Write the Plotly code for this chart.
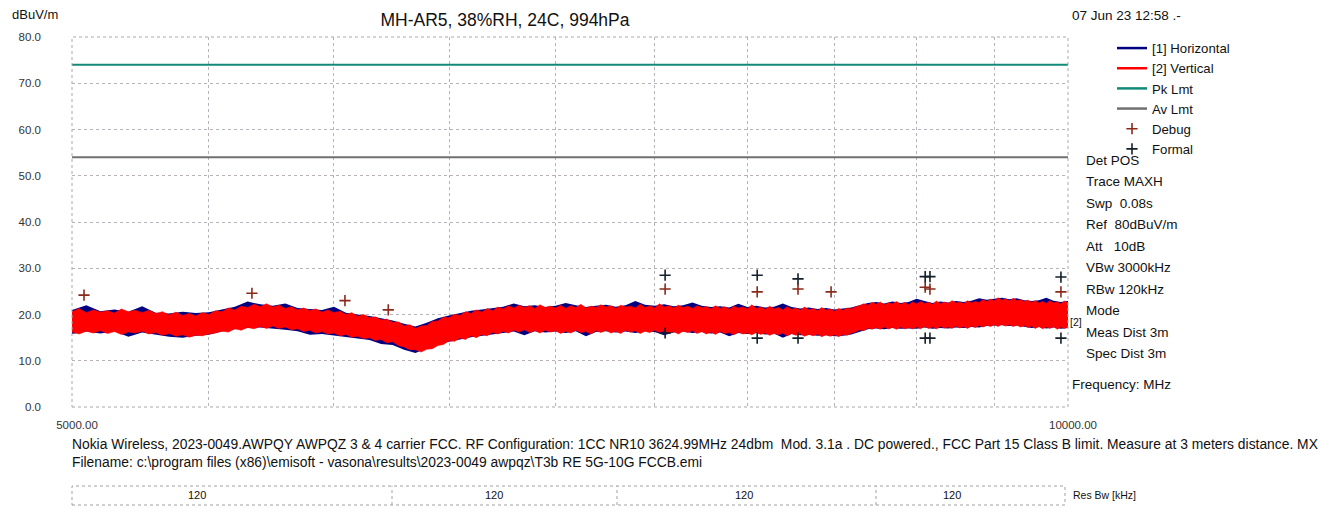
import plotly.graph_objects as go

# ---------------- data ----------------
# red (vertical) trace envelope, 25 MHz step
freq_fine = [5000 + 25 * j for j in range(201)]
red_upper = [20.6, 21.3, 20.4, 21.0, 20.5, 20.8, 20.3, 21.2, 20.6, 20.9, 20.4,
             20.9, 20.2, 20.6, 19.9, 20.5, 19.8, 20.2, 19.7, 20.4, 20.0,
             20.8, 20.6, 21.4, 21.0, 21.8, 21.5, 22.2, 21.7, 22.3, 21.6,
             22.0, 21.3, 21.7, 21.0, 21.4, 20.8, 21.2, 20.5, 21.0, 20.4,
             20.7, 20.0, 20.4, 19.6, 20.0, 19.3, 19.5, 18.8, 19.0, 18.3,
             18.4, 17.5, 17.8, 17.0, 17.5, 17.6, 18.5, 18.6, 19.4, 19.3,
             20.0, 19.8, 20.6, 20.2, 21.0, 20.5, 21.3, 20.8, 21.6, 21.2,
             21.9, 21.4, 22.0, 21.5, 21.9, 21.3, 22.1, 21.5, 21.8, 21.4,
             22.0, 21.3, 21.9, 21.5, 22.2, 21.4, 21.8, 21.5, 22.1, 21.6,
             21.9, 21.3, 22.0, 21.6, 21.8, 21.4, 22.2, 21.5, 21.9, 21.4,
             22.3, 21.6, 21.9, 21.4, 22.0, 21.5, 21.8, 21.3, 21.9, 21.5,
             21.7, 21.2, 21.9, 21.3, 21.7, 21.1, 21.8, 21.4, 21.6, 21.2,
             22.1, 21.3, 21.6, 21.1, 21.8, 21.2, 21.5, 21.0, 21.7, 21.1,
             21.4, 20.9, 21.6, 21.0, 21.3, 20.8, 21.5, 20.9, 21.2, 20.7,
             21.3, 20.9, 21.4, 21.2, 21.7, 21.9, 22.3, 22.0, 22.6, 22.2,
             22.7, 22.1, 22.5, 22.3, 22.8, 22.2, 22.6, 22.1, 22.7, 22.3,
             22.8, 22.4, 22.6, 22.2, 22.9, 22.3, 22.7, 22.4, 23.0, 22.5,
             22.7, 22.3, 23.0, 22.5, 22.8, 22.6, 23.2, 22.8, 23.3, 23.0,
             23.6, 23.1, 23.4, 22.9, 23.5, 23.0, 23.2, 22.8, 23.1, 22.6,
             23.0, 22.5, 22.8, 22.4, 23.0, 22.5, 22.7, 22.3, 22.9, 22.4]
red_lower = [16.2, 15.8, 16.4, 16.0, 16.5, 15.9, 16.3, 15.7, 16.2, 16.0, 16.4,
             15.8, 16.1, 15.5, 15.9, 15.3, 15.6, 15.1, 15.5, 15.4, 15.8,
             16.0, 16.4, 16.2, 16.9, 16.6, 17.2, 16.9, 17.4, 17.0, 17.5,
             17.0, 17.3, 16.7, 16.9, 16.3, 16.6, 16.0, 16.3, 15.8, 16.0,
             15.4, 15.7, 15.1, 15.3, 14.8, 15.0, 14.4, 14.6, 13.9, 14.1,
             13.3, 13.0, 12.4, 12.4, 11.9, 12.5, 12.6, 13.3, 13.5, 14.3,
             14.2, 14.9, 14.6, 15.4, 15.0, 15.7, 15.4, 16.1, 15.8, 16.4,
             16.0, 16.6, 16.2, 16.7, 16.1, 16.5, 16.0, 16.6, 16.2, 16.5,
             15.9, 16.4, 16.0, 16.6, 16.1, 16.3, 15.8, 16.5, 16.1, 16.6,
             16.0, 16.4, 15.9, 16.6, 16.2, 16.5, 15.9, 16.4, 16.1, 16.6,
             16.1, 16.5, 16.0, 16.3, 15.8, 16.4, 16.1, 16.5, 15.9, 16.3,
             15.8, 16.2, 15.7, 16.3, 15.9, 16.1, 15.6, 16.2, 15.8, 16.0,
             15.6, 16.1, 15.7, 16.0, 15.5, 15.9, 15.6, 16.0, 15.4, 15.9,
             15.5, 15.8, 15.3, 15.7, 15.4, 15.8, 15.2, 15.6, 15.3, 15.6,
             15.2, 15.7, 15.5, 16.0, 16.2, 16.7, 16.5, 17.1, 16.8, 17.2,
             16.8, 17.3, 16.9, 17.2, 16.8, 17.3, 16.9, 17.2, 16.9, 17.3,
             16.9, 17.4, 17.0, 17.3, 16.9, 17.4, 17.1, 17.3, 17.0, 17.5,
             17.1, 17.4, 17.0, 17.5, 17.2, 17.6, 17.3, 17.7, 17.4, 17.8,
             17.4, 17.9, 17.5, 17.8, 17.4, 17.7, 17.3, 17.6, 17.2, 17.5,
             17.0, 17.4, 16.9, 17.3, 17.0, 17.4, 16.8, 17.3, 17.0, 17.3]

# blue (horizontal) trace envelope, 50 MHz step
freq_coarse = [5000 + 50 * i for i in range(101)]
blue_upper = [21.0, 22.0, 20.7, 21.1, 20.6, 21.8, 20.4, 20.2, 20.6, 20.3,
              20.5, 21.1, 21.7, 22.8, 22.2, 21.9, 22.4, 21.4, 21.2, 21.0,
              21.7, 20.4, 20.0, 19.7, 19.2, 18.7, 18.0, 17.4, 18.2, 19.2,
              19.8, 20.3, 20.8, 21.1, 21.4, 21.7, 22.4, 21.8, 22.0, 21.6,
              21.9, 22.5, 22.0, 21.6, 21.9, 22.1, 21.7, 22.0, 22.9, 22.1,
              21.9, 22.2, 21.8, 22.0, 22.6, 21.9, 21.6, 21.8, 21.5, 22.3,
              21.6, 21.9, 21.5, 21.7, 22.4, 21.6, 21.3, 21.5, 21.2, 21.4,
              21.1, 21.3, 21.5, 22.0, 22.5, 22.7, 22.4, 22.8, 22.5, 22.7,
              23.4, 22.9, 22.5, 22.8, 22.6, 22.9, 22.7, 23.0, 23.5, 23.2,
              23.4, 23.6, 23.3, 23.5, 23.1, 22.9, 23.1, 23.6, 23.0, 22.7,
              22.9]
blue_lower = [15.8, 16.3, 15.9, 16.4, 15.2, 16.1, 15.6, 15.2, 15.0, 15.4,
              15.6, 16.3, 16.8, 17.1, 17.2, 17.0, 16.7, 16.4, 15.6, 15.8,
              15.5, 15.1, 14.8, 14.5, 13.6, 13.4, 12.4, 11.7, 12.7, 13.6,
              14.1, 14.6, 15.1, 15.4, 15.7, 16.0, 16.3, 15.5, 16.4, 16.1,
              16.3, 16.0, 16.4, 15.3, 16.2, 16.4, 16.1, 16.3, 16.0, 16.4,
              16.2, 15.5, 16.1, 16.3, 16.0, 16.2, 15.9, 16.1, 15.3, 16.0,
              15.8, 16.0, 15.7, 15.9, 15.0, 15.8, 15.5, 15.6, 15.4, 15.5,
              15.3, 15.4, 15.7, 16.3, 16.8, 17.0, 16.8, 17.1, 16.9, 17.0,
              16.9, 17.2, 16.9, 17.1, 17.0, 17.2, 17.1, 17.3, 17.2, 17.5,
              17.6, 17.7, 17.5, 17.6, 17.3, 17.1, 17.3, 17.0, 17.2, 16.9,
              17.1]

pk_limit = 74.0
av_limit = 54.0

debug_freq = [5042, 5667, 6046, 6231, 7555, 8055, 8287, 8480, 9054, 9084, 9951]
debug_level = [24.2, 24.6, 23.0, 21.0, 25.5, 24.9, 25.5, 24.9, 25.9, 25.5, 24.9]

formal_freq = [7555, 7555, 8055, 8055, 8287, 8287, 9054, 9084, 9054, 9084, 9951, 9951]
formal_level = [28.5, 16.0, 28.5, 14.9, 27.7, 14.9, 28.2, 28.2, 14.9, 14.9, 28.1, 14.9]

y_ticks = [0, 10, 20, 30, 40, 50, 60, 70, 80]
y_ticktext = ["0.0", "10.0", "20.0", "30.0", "40.0", "50.0", "60.0", "70.0", "80.0"]
x_ticks = [5000, 5500, 6000, 6500, 7000, 7500, 8000, 8500, 9000, 9500, 10000]
x_ticktext = ["5000.00", "", "", "", "", "", "", "", "", "", "10000.00"]

info_lines = ["Det POS", "Trace MAXH", "Swp\u00a0 0.08s", "Ref\u00a0 80dBuV/m",
              "Att\u00a0\u00a0 10dB", "VBw 3000kHz", "RBw 120kHz", "Mode",
              "Meas Dist 3m", "Spec Dist 3m"]

title_text = "MH-AR5, 38%RH, 24C, 994hPa"
date_text = "07 Jun 23 12:58 .-"
footer_1 = ("Nokia Wireless, 2023-0049.AWPQY AWPQZ 3 & 4 carrier FCC. RF Configuration: 1CC NR10 3624.99MHz 24dbm\u00a0 "
            "Mod. 3.1a . DC powered., FCC Part 15 Class B limit. Measure at 3 meters distance. MX")
footer_2 = "Filename: c:\\program files (x86)\\emisoft - vasona\\results\\2023-0049 awpqz\\T3b RE 5G-10G FCCB.emi"

resbw_values = ["120", "120", "120", "120"]
resbw_label_px = [197, 494, 744, 952]
resbw_div_px = [392, 617, 876]

# ---------------- layout helpers ----------------
W, H = 1331, 510
L, R, T, B = 72, 1068, 37, 407
FONT = "Liberation Sans, Arial, sans-serif"


def px_x(p):
    return (p - L) / (R - L)


def px_y(p):
    return (B - p) / (B - T)


fig = go.Figure()

# Horizontal (blue) band
fig.add_trace(go.Scatter(
    x=freq_coarse + freq_coarse[::-1], y=blue_upper + blue_lower[::-1],
    fill="toself", fillcolor="#000080", line=dict(width=0),
    mode="lines", showlegend=False, hoverinfo="skip"))
# Vertical (red) band
fig.add_trace(go.Scatter(
    x=freq_fine + freq_fine[::-1], y=red_upper + red_lower[::-1],
    fill="toself", fillcolor="#ff0000", line=dict(width=0.6, color="#ff0000"),
    mode="lines", showlegend=False, hoverinfo="skip"))

# limit lines
fig.add_trace(go.Scatter(x=[freq_fine[0], freq_fine[-1]], y=[pk_limit, pk_limit],
                         mode="lines", line=dict(color="#128a78", width=2),
                         showlegend=False, hoverinfo="skip"))
fig.add_trace(go.Scatter(x=[freq_fine[0], freq_fine[-1]], y=[av_limit, av_limit],
                         mode="lines", line=dict(color="#707070", width=2),
                         showlegend=False, hoverinfo="skip"))

# markers
fig.add_trace(go.Scatter(x=debug_freq, y=debug_level, mode="markers", name="Debug",
                         marker=dict(symbol="cross-thin", size=8,
                                     line=dict(color="#8b2a1a", width=1.6)),
                         showlegend=False))
fig.add_trace(go.Scatter(x=formal_freq, y=formal_level, mode="markers", name="Formal",
                         marker=dict(symbol="cross-thin", size=8,
                                     line=dict(color="#14202a", width=1.6)),
                         showlegend=False))

# legend entries
legend_items = [("[1] Horizontal", "lines", "#000080"),
                ("[2] Vertical", "lines", "#ff0000"),
                ("Pk Lmt", "lines", "#128a78"),
                ("Av Lmt", "lines", "#707070"),
                ("Debug", "markers", "#8b2a1a"),
                ("Formal", "markers", "#14202a")]
for name, mode, col in legend_items:
    if mode == "lines":
        fig.add_trace(go.Scatter(x=[None], y=[None], mode="lines", name=name,
                                 line=dict(color=col, width=2.5)))
    else:
        fig.add_trace(go.Scatter(x=[None], y=[None], mode="markers", name=name,
                                 marker=dict(symbol="cross-thin", size=8,
                                             line=dict(color=col, width=1.6))))

grid_col = "#b9b2bd"
fig.update_xaxes(type="log", range=[3.69897, 4.0], tickvals=x_ticks, ticktext=x_ticktext,
                 showgrid=True, gridcolor=grid_col, griddash="dot", gridwidth=1,
                 zeroline=False, showline=False, ticks="", automargin=False,
                 ticklabelstandoff=9, ticklabelshift=5,
                 tickfont=dict(family=FONT, size=11.5, color="#333"),
                 fixedrange=True)
fig.update_yaxes(range=[0, 80], tickvals=y_ticks, ticktext=y_ticktext,
                 showgrid=True, gridcolor=grid_col, griddash="dot", gridwidth=1,
                 zeroline=False, showline=False, ticks="", ticklabelstandoff=30,
                 automargin=False,
                 tickfont=dict(family=FONT, size=11.5, color="#333"),
                 fixedrange=True)

shapes = [dict(type="rect", xref="paper", yref="paper", x0=0, x1=1, y0=0, y1=1,
               line=dict(color="#a8a8a8", width=1, dash="dot"))]
# Res Bw bar
bar_y0, bar_y1 = px_y(505), px_y(486)
shapes.append(dict(type="rect", xref="paper", yref="paper", x0=px_x(72), x1=px_x(1065),
                   y0=bar_y0, y1=bar_y1, line=dict(color="#a0a0a0", width=1, dash="dot")))
for d in resbw_div_px:
    shapes.append(dict(type="line", xref="paper", yref="paper", x0=px_x(d), x1=px_x(d),
                       y0=bar_y0, y1=bar_y1, line=dict(color="#a0a0a0", width=1, dash="dot")))

ann = []


def text(x, y, s, size=14, anchor="left", color="#111"):
    ann.append(dict(x=px_x(x), y=px_y(y), xref="paper", yref="paper", text=s,
                    showarrow=False, xanchor=anchor, yanchor="middle",
                    font=dict(family=FONT, size=size, color=color)))


text(10, 15, "dBuV/m", size=13)
text(1070, 16, date_text, size=13.5)
for i, s in enumerate(info_lines):
    text(1084, 160 + i * 21.5, s, size=13.5)
text(1070, 384, "Frequency: MHz", size=13.5)
text(1068, 322, "[2]", size=10.5)
text(70, 444, footer_1, size=13.85)
text(70, 462, footer_2, size=13.85)
for v, p in zip(resbw_values, resbw_label_px):
    text(p, 495, v, size=11, anchor="center")
text(1071, 495, "Res Bw [kHz]", size=10.5)

fig.update_layout(
    width=W, height=H,
    margin=dict(l=L, r=W - R, t=T, b=H - B, autoexpand=False),
    paper_bgcolor="white", plot_bgcolor="white",
    title=dict(text=title_text, x=505 / W, xanchor="center",
               y=1 - 20 / H, yanchor="middle", yref="container",
               font=dict(family=FONT, size=17.5, color="#111")),
    legend=dict(x=px_x(1112), y=px_y(33), xanchor="left", yanchor="top",
                font=dict(family=FONT, size=13.2, color="#111"),
                tracegroupgap=0, itemwidth=30, bgcolor="rgba(0,0,0,0)"),
    shapes=shapes, annotations=ann,
)

fig.write_html("out.html", config={"displayModeBar": False},
               post_script="document.body.style.margin='0px';document.body.style.overflow='hidden';")
